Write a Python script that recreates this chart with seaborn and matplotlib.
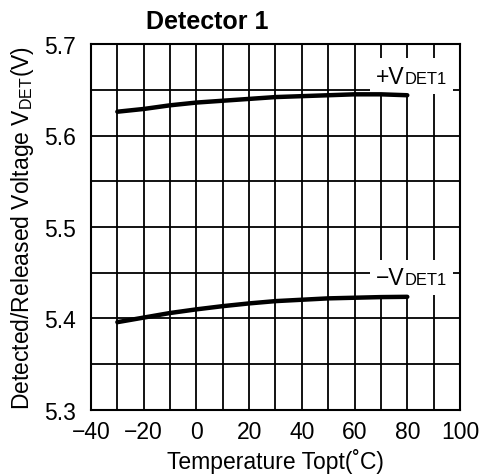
import numpy as np
import pandas as pd
import seaborn as sns
import matplotlib
matplotlib.use("Agg")
import matplotlib.pyplot as plt
from matplotlib.offsetbox import TextArea, HPacker, AnnotationBbox

# values
temps = [-30, -20, -10, 0, 10, 20, 30, 40, 50, 60, 70, 80]
vdet_plus = [5.626, 5.629, 5.633, 5.636, 5.638, 5.640, 5.642, 5.643, 5.644, 5.645, 5.645, 5.644]
vdet_minus = [5.396, 5.401, 5.406, 5.410, 5.4135, 5.4165, 5.419, 5.4205, 5.422, 5.4227, 5.4234, 5.4237]
x_ticks = [-40, -20, 0, 20, 40, 60, 80, 100]
y_ticks = [5.3, 5.4, 5.5, 5.6, 5.7]

sns.set_style("ticks")
plt.rcParams['font.family'] = ['Liberation Sans', 'DejaVu Sans']
plt.rcParams['mathtext.fontset'] = 'custom'
plt.rcParams['mathtext.rm'] = 'Liberation Sans'
for k in ['text.color', 'axes.labelcolor', 'xtick.color', 'ytick.color']:
    plt.rcParams[k] = 'black'
FS = 16.5

df = pd.DataFrame({
    "temp": temps * 2,
    "v": vdet_plus + vdet_minus,
    "series": ["+"] * len(temps) + ["-"] * len(temps),
})

fig = plt.figure(figsize=(4.82, 4.77), dpi=100)
ax = fig.add_axes([91 / 482, 1 - 411 / 477, 369 / 482, 366 / 477])

sns.lineplot(data=df, x="temp", y="v", units="series", estimator=None,
             color="black", linewidth=3.2, ax=ax, legend=False, zorder=6)

ax.set_xlim(-40, 100)
ax.set_ylim(5.3, 5.7)
ax.set_xticks(x_ticks)
ax.set_xticklabels([str(t).replace("-", "\u2212") for t in x_ticks], fontsize=FS)
ax.set_yticks(y_ticks)
ax.set_yticklabels([f"{t:.1f}" for t in y_ticks], fontsize=FS)
ax.set_xticks(np.arange(-40, 101, 10), minor=True)
ax.set_yticks(np.arange(5.3, 5.701, 0.05), minor=True)
ax.tick_params(which="both", length=0)
ax.tick_params(axis="x", pad=7)
ax.tick_params(axis="y", pad=11)
ax.grid(which="both", color="black", linewidth=1.3)
for sp in ax.spines.values():
    sp.set_linewidth(1.5)
    sp.set_color("black")

ax.set_xlabel("Temperature Topt(\u02daC)", fontsize=FS, labelpad=4)
ax.set_ylabel(r"Detected/Released Voltage V$_{\mathregular{DET}}$(V)", fontsize=FS, labelpad=6)
fig.text(207 / 482, 1 - 22 / 477, "Detector 1", fontsize=18, fontweight="bold",
         ha="center", va="center")


def vlabel(sign, y):
    parts = HPacker(children=[
        TextArea(sign + "V", textprops=dict(fontsize=FS)),
        TextArea("DET1", textprops=dict(fontsize=FS * 0.72)),
    ], align="baseline", pad=0, sep=0)
    ab = AnnotationBbox(parts, (81.5, y), xycoords="data", frameon=True,
                        pad=0.45, bboxprops=dict(fc="white", ec="none"), zorder=5)
    ax.add_artist(ab)


vlabel("+", 5.665)
vlabel("\u2212", 5.445)

fig.savefig("out.png", dpi=100)
